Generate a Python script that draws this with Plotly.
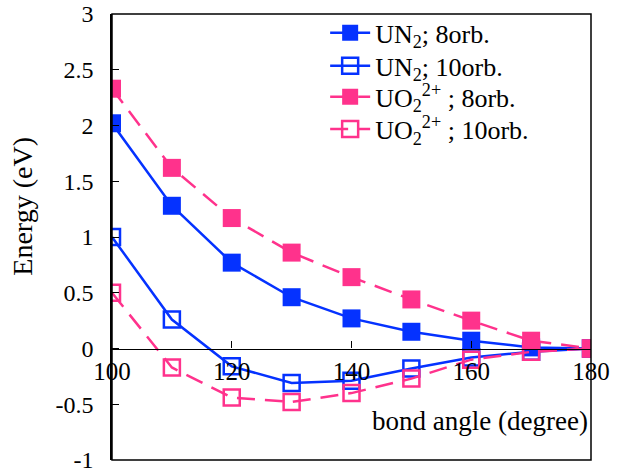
import plotly.graph_objects as go

# Bond angle (degree) and relative energies (eV)
angles = [100, 110, 120, 130, 140, 150, 160, 170, 180]
un2_8orb = [2.02, 1.28, 0.77, 0.46, 0.27, 0.15, 0.07, 0.01, 0.0]
un2_10orb = [1.00, 0.26, -0.16, -0.31, -0.29, -0.18, -0.08, -0.03, 0.0]
uo2_8orb = [2.33, 1.62, 1.17, 0.86, 0.64, 0.44, 0.25, 0.07, 0.0]
uo2_10orb = [0.50, -0.17, -0.44, -0.48, -0.40, -0.27, -0.10, -0.03, 0.0]

x_ticks = [100, 120, 140, 160, 180]
y_ticks = [-1, -0.5, 0, 0.5, 1, 1.5, 2, 2.5, 3]

BLUE = "rgb(5,50,255)"
PINK = "rgb(255,50,140)"
FONT = "Liberation Serif"

series = [
    ("UN<sub>2</sub>; 8orb.", un2_8orb, BLUE, "solid", "square"),
    ("UN<sub>2</sub>; 10orb.", un2_10orb, BLUE, "solid", "square-open"),
    ("UO<sub>2</sub><sup>2+</sup> ; 8orb.", uo2_8orb, PINK, "18px,10px", "square"),
    ("UO<sub>2</sub><sup>2+</sup> ; 10orb.", uo2_10orb, PINK, "18px,10px", "square-open"),
]

# each series gets its own legend box so the rows can be spaced evenly
legend_ids = ["legend", "legend2", "legend3", "legend4"]
legend_rows = [0.958, 0.884, 0.814, 0.742]

fig = go.Figure()
for (name, vals, color, dash, symbol), lid in zip(series, legend_ids):
    is_open = symbol.endswith("open")
    fig.add_trace(go.Scatter(
        x=angles, y=vals, name=name, mode="lines+markers", legend=lid,
        line=dict(color=color, width=2.5, dash=dash),
        marker=dict(symbol=symbol, size=16 if is_open else 18, color=color,
                    line=dict(color=color, width=2.5 if is_open else 0)),
    ))

legend_style = dict(x=0.445, xanchor="left", yanchor="middle",
                    bgcolor="rgba(0,0,0,0)", font=dict(size=26, family=FONT),
                    itemwidth=40)

fig.update_layout(
    width=621, height=473,
    margin=dict(l=112, r=30, t=14, b=13, autoexpand=False),
    plot_bgcolor="white", paper_bgcolor="white",
    font=dict(family=FONT, size=24, color="black"),
    showlegend=True,
    **{lid: dict(legend_style, y=row) for lid, row in zip(legend_ids, legend_rows)},
    xaxis=dict(range=[100, 180], tickvals=x_ticks, ticks="inside", ticklen=7,
               tickwidth=1.2, tickcolor="black", showline=True, linecolor="black",
               linewidth=1.2, showgrid=False, zeroline=False, automargin=False,
               anchor="free", position=0.25, ticklabeloverflow="allow",
               tickfont=dict(size=25, family=FONT)),
    yaxis=dict(range=[-1, 3], tickvals=y_ticks, ticktext=[f"{v:g}" for v in y_ticks],
               ticks="inside", ticklen=7, tickwidth=1.2, tickcolor="black",
               showline=True, linecolor="black", linewidth=1.5, showgrid=False,
               zeroline=False, ticklabelstandoff=12, automargin=False,
               ticklabeloverflow="allow",
               tickfont=dict(size=24, family=FONT)),
)

# frame around the plotting area
fig.add_shape(type="rect", xref="x domain", yref="y domain", x0=0, x1=1, y0=0, y1=1,
              line=dict(color="black", width=1.5), layer="above")

# axis titles
fig.add_annotation(text="Energy (eV)", xref="x domain", yref="y domain",
                   x=-0.186, y=0.57, xanchor="center", yanchor="middle",
                   textangle=-90, showarrow=False, font=dict(size=28, family=FONT))
fig.add_annotation(text="bond angle (degree)", xref="x domain", yref="y",
                   x=0.997, y=-0.65, xanchor="right", yanchor="middle",
                   showarrow=False, font=dict(size=27, family=FONT))

fig.write_html("out.html")
